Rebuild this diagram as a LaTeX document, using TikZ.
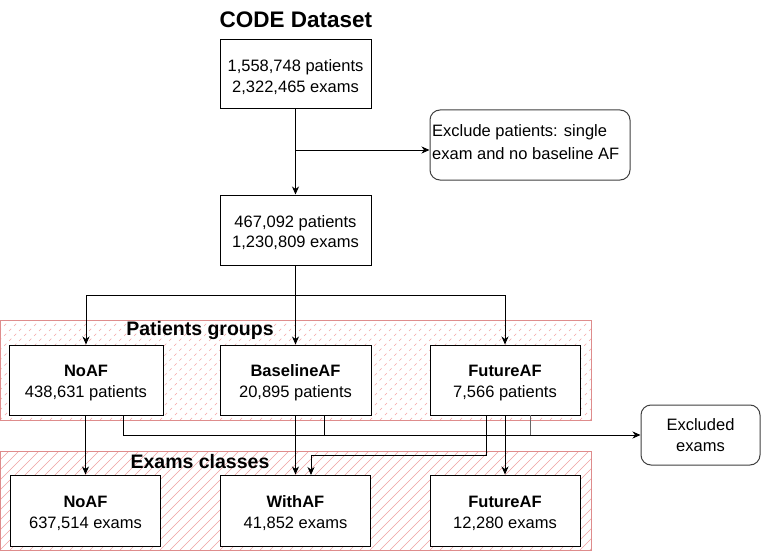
\documentclass[tikz,border=0pt]{standalone}
\usepackage{fontspec}
\setmainfont{Liberation Sans}
\usetikzlibrary{arrows.meta}
\definecolor{grpborder}{RGB}{222,140,140}
\definecolor{hatchA}{RGB}{245,165,165}
\definecolor{hatchB}{RGB}{240,160,160}
\tikzset{
  box/.style={draw=black, line width=1pt, fill=white, minimum width=151pt, minimum height=70pt, align=center, inner sep=2pt, text height=38pt, font=\fontsize{16.5}{20.5}\selectfont},
  rbox/.style={draw=black!75, line width=1pt, fill=white, rounded corners=10pt, align=center, inner sep=2pt, font=\fontsize{16.5}{20.5}\selectfont},
  arr/.style={-{Stealth[length=8pt,width=7pt,inset=2.5pt]}, line width=0.9pt},
  ln/.style={line width=0.9pt},
  grp/.style={draw=grpborder, line width=1pt},
  ttl/.style={font=\bfseries\fontsize{19.5}{22}\selectfont, inner sep=0pt},
}
\begin{document}
\begin{tikzpicture}[x=1pt,y=-1pt]
\useasboundingbox (0,0) rectangle (761,551);
\fill[white] (0,0) rectangle (761,551);
% containers with hatching
\begin{scope}
\clip (0.5,320.5) rectangle (591,420);
\foreach \i in {-120,-110,...,600} \draw[hatchA, line width=0.6pt, dash pattern=on 3pt off 4pt] (\i,420) -- (\i+100,320);
\end{scope}
\begin{scope}
\clip (0.5,451) rectangle (591,550);
\foreach \i in {-120,-110,...,600} \draw[hatchB, line width=0.6pt] (\i,550) -- (\i+100,450);
\end{scope}
\draw[grp] (0.5,320.5) rectangle (591,420);
\draw[grp] (0.5,451) rectangle (591,550);
\node[ttl] (tPat) at (200,330.5) {Patients groups};
\node[ttl] (tExa) at (200,461.5) {Exams classes};
\node[font=\bfseries\fontsize{22.5}{26}\selectfont, inner sep=0pt] (title) at (296,19.5) {CODE Dataset};
% boxes
\node[box, minimum height=69pt] (top) at (295.5,74.5) {1,558,748 patients\\2,322,465 exams};
\node[box] (mid) at (295.5,230) {467,092 patients\\1,230,809 exams};
\node[rbox, minimum width=200pt, minimum height=70pt] (excl) at (530,145) {};
\node[anchor=west, align=left, inner sep=0pt, font=\fontsize{16.5}{23}\selectfont] (exclt) at (432,142.5) {Exclude patients: single\\exam and no baseline AF};
\node[box, minimum width=154pt] (pNo) at (86,380) {\textbf{NoAF}\\438,631 patients};
\node[box] (pBase) at (295.5,380) {\textbf{BaselineAF}\\20,895 patients};
\node[box, minimum width=150pt] (pFut) at (505,380) {\textbf{FutureAF}\\7,566 patients};
\node[box, minimum width=150pt, minimum height=71pt] (eNo) at (85.5,510.5) {\textbf{NoAF}\\637,514 exams};
\node[box, minimum width=150pt, minimum height=71pt] (eWith) at (295.5,510.5) {\textbf{WithAF}\\41,852 exams};
\node[box, minimum width=150pt, minimum height=71pt] (eFut) at (505,510.5) {\textbf{FutureAF}\\12,280 exams};
\node[rbox, minimum width=119pt, minimum height=60pt] (exEx) at (700.5,435) {Excluded\\exams};
% connectors top
\draw[arr] (top.south) -- (mid.north);
\coordinate (j1) at (295.5,150);
\draw[arr] (j1) -- (excl.west |- j1);
\coordinate (j2) at (295.5,295);
\draw[ln] (mid.south) -- (j2);
\draw[ln] (pNo.north |- j2) -- (pFut.north |- j2);
\draw[arr] (pNo.north |- j2) -- (pNo.north);
\draw[arr] (j2) -- (pBase.north);
\draw[arr] (pFut.north |- j2) -- (pFut.north);
% lower connectors
\draw[arr] (pNo.south -| eNo.north) -- (eNo.north);
\coordinate (e1) at (123,415);
\coordinate (e2) at (324,415);
\coordinate (e3) at (530,415);
\draw[arr] (e1) -- (123,435) -- (exEx.west);
\draw[ln] (e2) -- (324,435);
\draw[ln, black!60] (e3) -- (530,435);
\draw[arr] (pBase.south) -- (eWith.north);
\coordinate (f1) at (486,415);
\draw[arr] (f1) -- (486,455) -- (311,455) -- (311,475);
\draw[arr] (pFut.south) -- (eFut.north);
\end{tikzpicture}
\end{document}
